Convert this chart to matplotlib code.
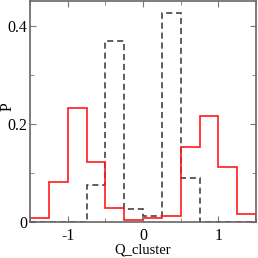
import numpy as np
import matplotlib
matplotlib.use("Agg")
import matplotlib.pyplot as plt
from matplotlib.ticker import MultipleLocator

bin_edges = [-1.5, -1.25, -1.0, -0.75, -0.5, -0.25, 0.0, 0.25, 0.5, 0.75, 1.0, 1.25, 1.5]
red_p = [0.008, 0.082, 0.232, 0.123, 0.029, 0.004, 0.008, 0.012, 0.152, 0.216, 0.112, 0.017]
black_p = [0.0, 0.0, 0.0, 0.076, 0.369, 0.027, 0.013, 0.425, 0.089, 0.0, 0.0, 0.0]

plt.rcParams['font.family'] = ['Liberation Serif', 'DejaVu Serif']
plt.rcParams['axes.unicode_minus'] = False
fig = plt.figure(figsize=(2.58, 2.58), dpi=100)
ax = fig.add_axes([30/258, 36/258, 226/258, 221/258])

ax.stairs(black_p, bin_edges, color='#333333', lw=1.1, ls=(0, (4, 2.5)))
ax.stairs(red_p, bin_edges, color='#ff1a1a', lw=1.2)

ax.set_xlim(-1.5, 1.5)
ax.set_ylim(0, 0.45)
ax.xaxis.set_major_locator(MultipleLocator(1))
ax.xaxis.set_minor_locator(MultipleLocator(0.5))
ax.yaxis.set_major_locator(MultipleLocator(0.2))
ax.yaxis.set_minor_locator(MultipleLocator(0.1))
ax.xaxis.set_major_formatter(plt.FuncFormatter(lambda v, p: f'{v:.0f}'))
ax.yaxis.set_major_formatter(plt.FuncFormatter(lambda v, p: '0' if v == 0 else f'{v:.1f}'))
ax.tick_params(which='both', direction='in', top=True, right=True, color='#777777', labelsize=11.5)
ax.tick_params(axis='x', pad=4)
ax.tick_params(axis='y', pad=2)
ax.tick_params(which='major', length=4)
ax.tick_params(which='minor', length=3)
for s in ax.spines.values():
    s.set_color('#666666')
    s.set_linewidth(1.2)

ax.set_xlabel('Q_cluster', fontsize=10.5, labelpad=0)
fig.text(8/258, 1 - 107/258, 'P', fontsize=11.5, rotation=90, ha='center', va='center')

fig.savefig('out.png', dpi=100)
